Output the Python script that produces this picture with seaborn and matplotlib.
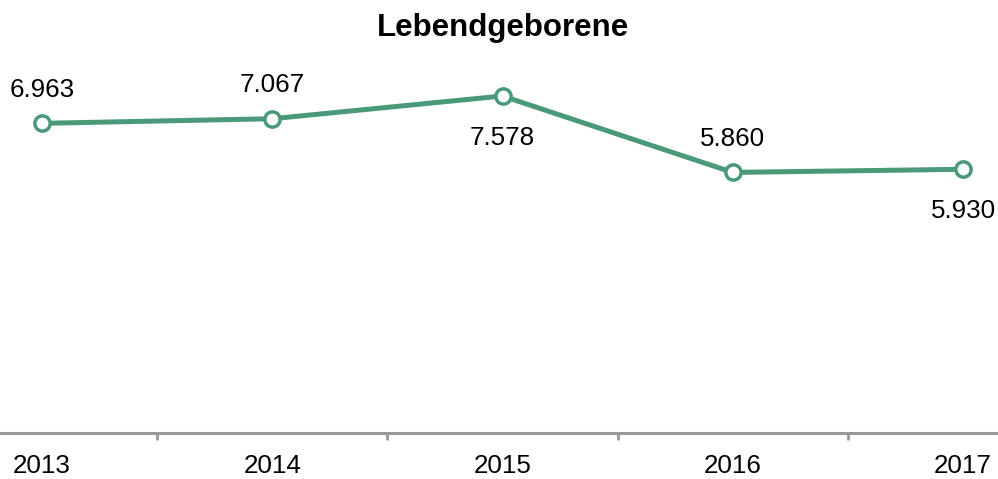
import matplotlib
matplotlib.use("Agg")
import matplotlib.pyplot as plt
import numpy as np
import pandas as pd
import seaborn as sns

years = ["2013", "2014", "2015", "2016", "2017"]
births = [6963, 7067, 7578, 5860, 5930]
label_above = [True, True, False, True, False]

sns.set_style("white")
plt.rcParams['font.family'] = ['Liberation Sans', 'DejaVu Sans']
plt.rcParams['text.color'] = "black"
plt.rcParams['xtick.color'] = "black"

green = "#4a9a7a"
df = pd.DataFrame({"pos": np.arange(len(years)), "births": births})

fig = plt.figure(figsize=(9.98, 4.79), dpi=100)
ax = fig.add_axes([0, 46 / 479, 1, (433 - 30) / 479])

sns.lineplot(data=df, x="pos", y="births", ax=ax, color=green, linewidth=3.6,
             marker="o", markersize=11, markerfacecolor="white",
             markeredgecolor=green, markeredgewidth=2.5)

for i, v in enumerate(births):
    txt = f"{v:,}".replace(",", ".")
    off = 24 if label_above[i] else -30
    ax.annotate(txt, (i, v), xytext=(0, off), textcoords="offset points",
                ha="center", va="center", fontsize=18.7, color="black")

ax.set_xlim(-42 / 230.25, 4 + 35 / 230.25)
ax.set_ylim(0, 9062)

ax.set_xticks(range(len(years)))
ax.set_xticklabels(years, fontsize=18.7)
ax.set_xticks([0.5, 1.5, 2.5, 3.5], minor=True)
ax.tick_params(axis="x", which="major", length=0, pad=15, labelcolor="black")
ax.tick_params(axis="x", which="minor", length=5, width=2, color="#999999",
               direction="out", bottom=True)
ax.set_yticks([])
ax.set_xlabel("")
ax.set_ylabel("")

for s in ["top", "left", "right"]:
    ax.spines[s].set_visible(False)
ax.spines["bottom"].set_color("#999999")
ax.spines["bottom"].set_linewidth(2.2)

fig.text(0.504, 1 - 28 / 479, "Lebendgeborene", ha="center", va="center",
         fontsize=22.5, fontweight="bold")

fig.savefig("out.png", dpi=100)
